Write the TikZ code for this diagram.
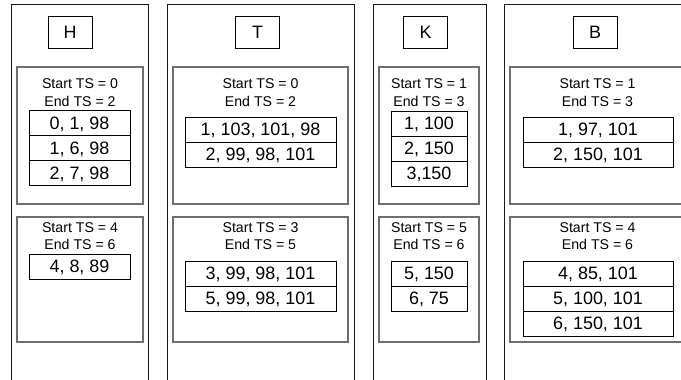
\documentclass[tikz,border=0pt]{standalone}
\usepackage{fontspec}
\setmainfont{Liberation Sans}
\usetikzlibrary{positioning}
\definecolor{boxgray}{RGB}{110,110,110}

\begin{document}
\begin{tikzpicture}[x=1bp,y=-1bp,
  every node/.style={inner sep=0pt,outer sep=0pt},
  colline/.style={line width=1bp,black!90},
  tablebox/.style={line width=1.4bp,boxgray},
  namebox/.style={draw,line width=0.9bp,minimum width=44bp,minimum height=32bp,
    text height=12.9bp,text depth=0bp,font=\fontsize{18}{18}\selectfont},
  tsinfo/.style={align=center,font=\fontsize{14.2}{17.5}\selectfont},
  rowbox/.style={draw,line width=0.9bp,minimum height=25bp,
    text height=12.9bp,text depth=0bp,font=\fontsize{18}{18}\selectfont}]
  \path[use as bounding box] (0,0) rectangle (681,379);
  \clip (0,0) rectangle (681,379);
  % Columns
  \draw[colline] (11,390) |- (148,4) -- (148,390);
  \draw[colline] (167,390) |- (354,4) -- (354,390);
  \draw[colline] (373,390) |- (486,4) -- (486,390);
  \draw[colline] (504,390) |- (692,4) -- (692,390);
  % Table boxes
  \draw[tablebox] (17,67) rectangle (143,204);
  \draw[tablebox] (17,217) rectangle (143,342);
  \draw[tablebox] (173,67) rectangle (348,204);
  \draw[tablebox] (173,217) rectangle (348,342);
  \draw[tablebox] (379,67) rectangle (479,204);
  \draw[tablebox] (379,217) rectangle (479,342);
  \draw[tablebox] (510,67) rectangle (686,204);
  \draw[tablebox] (510,217) rectangle (686,342);
  % H
  \node[namebox] (hname) at (70,32) {H};
  \node[tsinfo] (htopts) at (80,92.5) {Start TS = 0\\End TS = 2};
  \node[rowbox,minimum width=101bp] (hr1) at (79.5,123) {0, 1, 98};
  \node[rowbox,minimum width=101bp,below=0pt of hr1] (hr2) {1, 6, 98};
  \node[rowbox,minimum width=101bp,below=0pt of hr2] (hr3) {2, 7, 98};
  \node[tsinfo] (hbotts) at (80,236) {Start TS = 4\\End TS = 6};
  \node[rowbox,minimum width=101bp] (hr4) at (79.5,266.5) {4, 8, 89};
  % T
  \node[namebox] (tname) at (257.5,32) {T};
  \node[tsinfo] (ttopts) at (260.5,92.5) {Start TS = 0\\End TS = 2};
  \node[rowbox,minimum width=151bp] (tr1) at (260.5,129.5) {1, 103, 101, 98};
  \node[rowbox,minimum width=151bp,below=0pt of tr1] (tr2) {2, 99, 98, 101};
  \node[tsinfo] (tbotts) at (260.5,236) {Start TS = 3\\End TS = 5};
  \node[rowbox,minimum width=151bp] (tr3) at (260.5,273.5) {3, 99, 98, 101};
  \node[rowbox,minimum width=151bp,below=0pt of tr3] (tr4) {5, 99, 98, 101};
  % K
  \node[namebox] (kname) at (425.5,32) {K};
  \node[tsinfo] (ktopts) at (429,92.5) {Start TS = 1\\End TS = 3};
  \node[rowbox,minimum width=76bp] (kr1) at (429,123.5) {1, 100};
  \node[rowbox,minimum width=76bp,below=0pt of kr1] (kr2) {2, 150};
  \node[rowbox,minimum width=76bp,below=0pt of kr2] (kr3) {3,150};
  \node[tsinfo] (kbotts) at (429,236) {Start TS = 5\\End TS = 6};
  \node[rowbox,minimum width=76bp] (kr4) at (429,273.5) {5, 150};
  \node[rowbox,minimum width=76bp,below=0pt of kr4] (kr5) {6, 75};
  % B
  \node[namebox] (bname) at (595,32) {B};
  \node[tsinfo] (btopts) at (597.5,92.5) {Start TS = 1\\End TS = 3};
  \node[rowbox,minimum width=150bp] (br1) at (598,129.5) {1, 97, 101};
  \node[rowbox,minimum width=150bp,below=0pt of br1] (br2) {2, 150, 101};
  \node[tsinfo] (bbotts) at (597.5,236) {Start TS = 4\\End TS = 6};
  \node[rowbox,minimum width=150bp] (br3) at (598,273.5) {4, 85, 101};
  \node[rowbox,minimum width=150bp,below=0pt of br3] (br4) {5, 100, 101};
  \node[rowbox,minimum width=150bp,below=0pt of br4] (br5) {6, 150, 101};
\end{tikzpicture}
\end{document}
